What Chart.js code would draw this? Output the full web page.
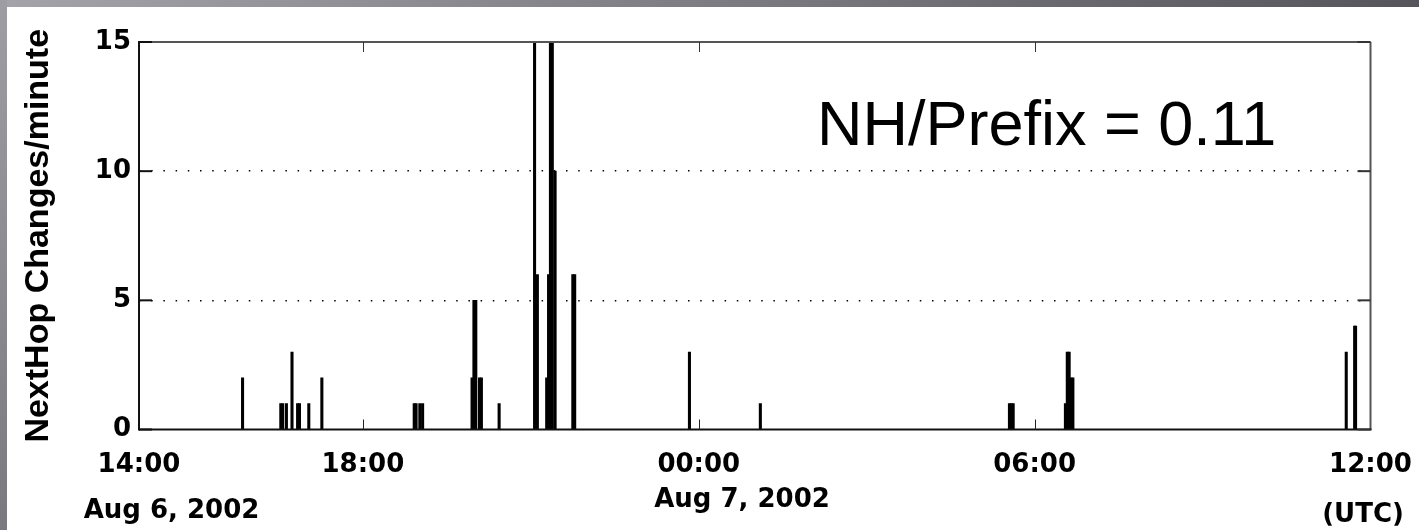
<!DOCTYPE html>
<html><head><meta charset="utf-8">
<script src="https://cdn.jsdelivr.net/npm/chart.js@4.4.0/dist/chart.umd.min.js"></script>
<style>html,body{margin:0;padding:0;background:#fff;overflow:hidden}canvas{display:block}</style>
</head><body>
<canvas id="c" width="1419" height="530"></canvas>
<script>
// minutes after Aug 6, 2002 14:00 UTC
const minutes = [111,152,154,158,164,170,172,182,196,295,297,301,304,357,359,361,365,367,386,424,427,437,439,441,443,446,465,467,590,666,933,935,937,993,995,997,999,1001,1294,1303,1304];
const changes = [2,1,1,1,3,1,1,1,2,1,1,1,1,2,5,5,2,2,1,15,6,2,6,15,15,10,6,6,3,1,1,1,1,1,3,3,2,2,3,4,4];
const tickMinutes = [0,240,600,960,1320];
const tickLabels = ['14:00','18:00','00:00','06:00','12:00'];
const yTicks = [0,5,10,15];
const yTitle = 'NextHop Changes/minute';
const annotation = 'NH/Prefix = 0.11';
const dateLabels = ['Aug 6, 2002','Aug 7, 2002'];
const zoneLabel = '(UTC)';

const TICK_FONT = "'DejaVu Sans', sans-serif";
const TITLE_FONT = "'Liberation Sans', Arial, sans-serif";

const frame = {
  id: 'frame',
  beforeDraw(chart) {
    const {ctx, width, height} = chart;
    ctx.save();
    ctx.fillStyle = '#fff'; ctx.fillRect(0, 0, width, height);
    let g = ctx.createLinearGradient(0, 0, width, 0);
    g.addColorStop(0, '#a4a3a9'); g.addColorStop(1, '#56555b');
    ctx.fillStyle = g; ctx.fillRect(0, 0, width, 7);
    g = ctx.createLinearGradient(0, 0, 0, height);
    g.addColorStop(0, '#9e9da3'); g.addColorStop(1, '#7a797f');
    ctx.fillStyle = g; ctx.fillRect(0, 0, 7, height);
    ctx.restore();
  },
  afterDatasetsDraw(chart) {
    const {ctx, chartArea: a, scales: {x, y}} = chart;
    const line = (x1, y1, x2, y2, c, w) => {
      ctx.beginPath(); ctx.strokeStyle = c; ctx.lineWidth = w;
      ctx.moveTo(x1, y1); ctx.lineTo(x2, y2); ctx.stroke();
    };
    ctx.save();
    line(a.left, a.top, a.right, a.top, '#555', 2);
    line(a.right, a.top, a.right, a.bottom, '#555', 2);
    line(a.left, a.bottom, a.right + 1, a.bottom, '#111', 2);
    line(a.left, a.top - 1, a.left, a.bottom + 1, '#111', 2);
    tickMinutes.forEach(v => {
      if (v === tickMinutes[0] || v === tickMinutes[tickMinutes.length - 1]) return;
      const px = Math.round(x.getPixelForValue(v)) + 0.5;
      line(px, a.bottom, px, a.bottom - 10, '#222', 1);
      line(px, a.top, px, a.top + 10, '#333', 1);
    });
    yTicks.forEach(v => {
      const py = y.getPixelForValue(v);
      line(a.left, py, a.left + 13, py, '#111', 2);
      line(a.right, py, a.right - 13, py, '#333', 2);
    });
    ctx.fillStyle = '#000';
    ctx.textBaseline = 'alphabetic';
    ctx.font = "63px 'Liberation Sans', Arial, sans-serif";
    ctx.textAlign = 'left';
    ctx.fillText(annotation, 817, 145);
    ctx.font = "bold 26px " + TICK_FONT;
    ctx.textAlign = 'center';
    ctx.fillText(dateLabels[0], 171.5, 518);
    ctx.fillText(dateLabels[1], 742, 507);
    ctx.fillText(zoneLabel, 1363, 522);
    ctx.restore();
  }
};

new Chart(document.getElementById('c'), {
  type: 'bar',
  data: {
    datasets: [{
      data: minutes.map((m, i) => ({x: m, y: changes[i]})),
      backgroundColor: '#000',
      borderWidth: 0,
      barThickness: 2.4
    }]
  },
  options: {
    responsive: false,
    animation: false,
    devicePixelRatio: 1,
    layout: {padding: {left: 0, right: 48.5, top: 42, bottom: 0}},
    plugins: {legend: {display: false}, tooltip: {enabled: false}},
    scales: {
      x: {
        type: 'linear',
        offset: false,
        min: tickMinutes[0],
        max: tickMinutes[tickMinutes.length - 1],
        afterBuildTicks: s => { s.ticks = tickMinutes.map(v => ({value: v})); },
        afterFit: s => { s.height = 100.5; s.paddingLeft = 0; s.paddingRight = 0; },
        grid: {display: false, offset: false},
        border: {display: false},
        ticks: {
          autoSkip: false, maxRotation: 0, padding: 12, color: '#000',
          font: {family: TICK_FONT, size: 26, weight: 'bold'},
          callback: v => tickLabels[tickMinutes.indexOf(v)]
        }
      },
      y: {
        min: yTicks[0],
        max: yTicks[yTicks.length - 1],
        afterBuildTicks: s => { s.ticks = yTicks.map(v => ({value: v})); },
        afterFit: s => { s.width = 139; s.paddingTop = 0; s.paddingBottom = 0; },
        grid: {
          drawTicks: false, lineWidth: 1.5,
          color: c => (c.tick && c.tick.value > yTicks[0] && c.tick.value < yTicks[yTicks.length - 1]) ? '#000' : 'rgba(0,0,0,0)'
        },
        border: {display: false, dash: [1.5, 10.7]},
        ticks: {
          padding: 8, color: '#000',
          font: {family: TICK_FONT, size: 26, weight: 'bold'}
        },
        title: {
          display: true, text: yTitle, color: '#000',
          font: {family: TITLE_FONT, size: 34, weight: 'bold', lineHeight: 1.2},
          padding: {top: 17.8, bottom: 0}
        }
      }
    }
  },
  plugins: [frame]
});
</script>
</body></html>
